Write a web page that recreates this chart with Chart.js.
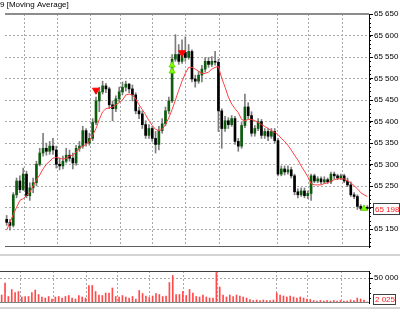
<!DOCTYPE html>
<html>
<head>
<meta charset="utf-8">
<script src="https://cdn.jsdelivr.net/npm/chart.js@4.4.0/dist/chart.umd.min.js"></script>
<style>
  html, body { margin: 0; padding: 0; background: #fff; }
  #wrap { position: relative; width: 400px; height: 314px; overflow: hidden; }
  #main { position: absolute; left: 0; top: 0; }
  #vol { position: absolute; left: 0; top: 258px; }
  .sep { position: absolute; left: 0; width: 400px; height: 2px; background: #d4d4d4; }
</style>
</head>
<body>
<div id="wrap">
  <canvas id="main" width="400" height="252"></canvas>
  <div class="sep" style="top:254px"></div>
  <canvas id="vol" width="400" height="56"></canvas>
  <div class="sep" style="top:307px"></div>
</div>
<script>
const titleText = '9 [Moving Average]';

const candleOpen = [
  65173, 65166, 65159, 65230, 65262, 65242, 65278, 65228, 65246, 65258,
  65301, 65327, 65338, 65331, 65343, 65334, 65301, 65297, 65308, 65322,
  65315, 65304, 65338, 65343, 65379, 65350, 65361, 65398, 65448, 65469,
  65483, 65476, 65439, 65430, 65453, 65469, 65480, 65487, 65476, 65462,
  65425, 65418, 65393, 65368, 65384, 65361, 65347, 65379, 65395, 65425,
  65448, 65545, 65556, 65540, 65561, 65549, 65563, 65499, 65494, 65508,
  65522, 65540, 65533, 65540, 65538, 65425, 65384, 65402, 65393, 65407,
  65354, 65343, 65391, 65434, 65414, 65373, 65384, 65400, 65368, 65377,
  65366, 65377, 65356, 65278, 65290, 65283, 65288, 65274, 65237, 65230,
  65239, 65228, 65233, 65274, 65262, 65267, 65260, 65265, 65260, 65278,
  65274, 65269, 65274, 65262, 65253, 65230, 65226, 65203, 65198, 65201
];
const candleHigh = [
  65182, 65173, 65235, 65269, 65274, 65292, 65285, 65258, 65269, 65308,
  65338, 65373, 65350, 65354, 65361, 65343, 65315, 65320, 65338, 65334,
  65327, 65345, 65354, 65389, 65384, 65373, 65407, 65457, 65480, 65494,
  65489, 65480, 65448, 65460, 65480, 65492, 65494, 65489, 65485, 65467,
  65434, 65425, 65402, 65393, 65389, 65377, 65389, 65407, 65434, 65457,
  65556, 65602, 65579, 65590, 65597, 65579, 65567, 65508, 65517, 65531,
  65549, 65549, 65551, 65563, 65545, 65430, 65412, 65409, 65414, 65412,
  65361, 65398, 65464, 65444, 65423, 65391, 65407, 65405, 65384, 65384,
  65384, 65384, 65361, 65297, 65297, 65297, 65294, 65278, 65244, 65246,
  65246, 65239, 65278, 65278, 65272, 65272, 65272, 65269, 65283, 65283,
  65278, 65278, 65278, 65269, 65260, 65235, 65230, 65207, 65205, 65205
];
const candleLow = [
  65159, 65148, 65155, 65223, 65235, 65240, 65223, 65217, 65235, 65251,
  65297, 65320, 65322, 65324, 65324, 65292, 65288, 65290, 65304, 65308,
  65290, 65299, 65331, 65338, 65343, 65345, 65356, 65393, 65423, 65464,
  65467, 65430, 65402, 65423, 65446, 65462, 65471, 65467, 65448, 65418,
  65407, 65384, 65361, 65361, 65354, 65327, 65334, 65373, 65391, 65418,
  65444, 65540, 65533, 65535, 65540, 65545, 65492, 65480, 65489, 65492,
  65515, 65526, 65528, 65531, 65377, 65338, 65377, 65384, 65389, 65347,
  65331, 65338, 65386, 65407, 65366, 65366, 65379, 65361, 65361, 65356,
  65361, 65350, 65274, 65274, 65276, 65278, 65269, 65230, 65223, 65226,
  65223, 65221, 65217, 65258, 65258, 65256, 65256, 65256, 65256, 65267,
  65265, 65265, 65258, 65249, 65226, 65221, 65196, 65194, 65194, 65194
];
const candleClose = [
  65166, 65159, 65230, 65262, 65242, 65278, 65228, 65246, 65258, 65301,
  65327, 65338, 65331, 65343, 65334, 65301, 65297, 65308, 65322, 65315,
  65304, 65338, 65343, 65379, 65350, 65361, 65398, 65448, 65469, 65483,
  65476, 65439, 65430, 65453, 65469, 65480, 65487, 65476, 65462, 65425,
  65418, 65393, 65368, 65384, 65361, 65347, 65379, 65395, 65425, 65448,
  65545, 65556, 65540, 65561, 65549, 65563, 65499, 65494, 65508, 65522,
  65540, 65533, 65540, 65538, 65425, 65384, 65402, 65393, 65407, 65354,
  65343, 65391, 65434, 65414, 65373, 65384, 65400, 65368, 65377, 65366,
  65377, 65356, 65278, 65290, 65283, 65288, 65274, 65237, 65230, 65239,
  65228, 65233, 65274, 65262, 65267, 65260, 65265, 65260, 65278, 65274,
  65269, 65274, 65262, 65253, 65230, 65226, 65203, 65198, 65201, 65198
];
const maValues = [
  65148, 65166, 65184, 65201, 65217, 65221, 65228, 65235, 65251, 65265,
  65276, 65290, 65301, 65308, 65315, 65317, 65315, 65313, 65315, 65320,
  65322, 65329, 65338, 65343, 65347, 65354, 65368, 65384, 65405, 65423,
  65430, 65432, 65434, 65439, 65444, 65450, 65462, 65464, 65462, 65453,
  65439, 65428, 65416, 65402, 65391, 65382, 65379, 65382, 65393, 65409,
  65428, 65450, 65473, 65494, 65512, 65526, 65526, 65522, 65517, 65512,
  65512, 65515, 65522, 65526, 65528, 65501, 65480, 65457, 65441, 65430,
  65421, 65405, 65402, 65405, 65405, 65402, 65398, 65393, 65389, 65384,
  65379, 65375, 65370, 65361, 65354, 65345, 65334, 65322, 65311, 65297,
  65285, 65272, 65256, 65253, 65253, 65253, 65256, 65258, 65262, 65265,
  65267, 65267, 65267, 65262, 65258, 65251, 65244, 65235, 65230, 65226
];
const volumes = [
  16000, 40000, 13000, 27000, 21000, 23000, 12000, 13000, 13000, 21000,
  26000, 17000, 12000, 10000, 13000, 8000, 12000, 13000, 10000, 13000,
  15000, 10000, 8000, 15000, 12000, 10000, 35000, 35000, 23000, 16000,
  15000, 20000, 20000, 30000, 13000, 12000, 15000, 12000, 10000, 13000,
  8000, 25000, 19000, 14000, 11000, 14000, 19000, 17000, 13000, 14000,
  41000, 55000, 17000, 17000, 23000, 15000, 27000, 20000, 13000, 12000,
  16000, 12000, 10000, 10000, 61000, 32000, 16000, 12000, 16000, 13000,
  16000, 14000, 12000, 10000, 7000, 5000, 6000, 5000, 6000, 5000,
  5000, 6000, 20000, 16000, 14000, 12000, 14000, 12000, 10000, 12000,
  10000, 8000, 7000, 5000, 4000, 5000, 4000, 5000, 4000, 5000,
  4000, 5000, 4000, 4000, 6000, 5000, 10000, 8000, 6000, 2025
];

// signal arrows (bar index, price)
const sellX = [27, 53];
const sellY = [65473, 65560];
const buyX = [50, 50];
const buyY = [65531, 65517];
const lastMarkX = [108];
const lastMarkY = [65198];

// axis ticks and vertical grid positions (bar index)
const gridX = [5.5, 15.3, 25.4, 34.4, 44.2, 54.1, 64.2, 81.8, 91.3, 101.4];
const priceTicks = [65150, 65200, 65250, 65300, 65350, 65400, 65450, 65500, 65550, 65600, 65650];
const volumeTicks = [50000];

const GRID = '#a8a8a8';
const FONT = { family: 'Liberation Sans', size: 8 };
const fmt = v => String(Math.round(v)).replace(/\B(?=(\d{3})+(?!\d))/g, ' ');
const idx = candleClose.map((_, i) => i);

const xScale = () => ({
  type: 'linear',
  min: -0.5,
  max: idx.length - 0.5,
  offset: false,
  afterBuildTicks: s => { s.ticks = gridX.map(v => ({ value: v })); },
  afterFit: s => { s.height = 0; },
  ticks: { display: false },
  grid: { color: GRID, drawTicks: false, offset: false },
  border: { display: false, dash: [2, 2] }
});

// right-hand axis: fixed width, no extra label padding
const fitRight = s => { s.width = 31; s.paddingTop = 0; s.paddingBottom = 0; };

const mainDecor = {
  id: 'mainDecor',
  afterDraw(chart) {
    const { ctx, chartArea: a, scales: { y } } = chart;
    ctx.save();
    ctx.font = '8px "Liberation Sans"';
    ctx.textBaseline = 'middle';
    ctx.textAlign = 'left';
    ctx.fillStyle = '#000';
    ctx.fillText(titleText, 0, 5);

    ctx.strokeStyle = '#8c8c8c';
    ctx.lineWidth = 2;
    ctx.beginPath(); ctx.moveTo(a.left, a.top); ctx.lineTo(a.right, a.top); ctx.stroke();
    ctx.strokeStyle = '#606060';
    ctx.lineWidth = 1;
    ctx.beginPath(); ctx.moveTo(a.left, a.bottom - 0.5); ctx.lineTo(a.right, a.bottom - 0.5); ctx.stroke();

    // minor ticks
    ctx.strokeStyle = '#000';
    for (let v = Math.ceil(y.min / 10) * 10; v <= y.max; v += 10) {
      const py = Math.round(y.getPixelForValue(v)) + 0.5;
      ctx.beginPath(); ctx.moveTo(a.right, py); ctx.lineTo(a.right + 2, py); ctx.stroke();
    }

    // last price box
    const last = candleClose[candleClose.length - 1];
    const py = Math.round(y.getPixelForValue(last));
    ctx.fillStyle = '#fff';
    ctx.fillRect(a.right + 4, py - 5, 27, 11);
    ctx.strokeStyle = '#404040';
    ctx.strokeRect(a.right + 4.5, py - 5.5, 26, 11);
    ctx.fillStyle = '#ff1a1a';
    ctx.fillText(fmt(last), a.right + 6, py + 0.5);
    ctx.restore();
  }
};

new Chart(document.getElementById('main'), {
  type: 'bar',
  data: {
    datasets: [
      {
        type: 'scatter', order: -3,
        data: sellX.map((x, i) => ({ x, y: sellY[i] })),
        pointStyle: 'triangle', rotation: 180, pointRadius: 4,
        backgroundColor: '#ff0000', borderColor: '#ff0000', borderWidth: 1
      },
      {
        type: 'scatter', order: -2,
        data: buyX.map((x, i) => ({ x, y: buyY[i] }))
          .concat(lastMarkX.map((x, i) => ({ x, y: lastMarkY[i] }))),
        pointStyle: 'triangle', pointRadius: 3.5,
        backgroundColor: '#80ff00', borderColor: '#66dd00', borderWidth: 1
      },
      {
        type: 'line', order: -1,
        data: idx.map(i => ({ x: i, y: maValues[i] })),
        borderColor: '#ff4040', borderWidth: 1, pointRadius: 0, tension: 0
      },
      {
        order: 1, grouped: false, barThickness: 2,
        data: idx.map(i => ({ x: i, y: [candleOpen[i], candleClose[i]] })),
        backgroundColor: idx.map(i => candleClose[i] >= candleOpen[i] ? '#0d5c0d' : '#000000')
      },
      {
        order: 2, grouped: false, barThickness: 1,
        data: idx.map(i => ({ x: i, y: [candleLow[i], candleHigh[i]] })),
        backgroundColor: '#7d7d7d'
      }
    ]
  },
  options: {
    responsive: false,
    animation: false,
    devicePixelRatio: 1,
    layout: { padding: { top: 14, bottom: 2, left: 0, right: 0 } },
    plugins: { legend: { display: false }, tooltip: { enabled: false } },
    scales: {
      x: xScale(),
      y: {
        position: 'right',
        min: 65108.7,
        max: 65650,
        afterBuildTicks: s => { s.ticks = priceTicks.map(v => ({ value: v })); },
        afterFit: fitRight,
        ticks: { color: '#000', font: FONT, padding: 1, autoSkip: false, callback: v => fmt(v) },
        grid: {
          color: c => (c.tick && c.tick.value >= 65650) ? 'rgba(0,0,0,0)' : GRID,
          tickColor: '#000', tickLength: 4
        },
        border: { display: true, color: '#000', width: 1, dash: [2, 2] }
      }
    }
  },
  plugins: [mainDecor]
});

const volDecor = {
  id: 'volDecor',
  afterDraw(chart) {
    const { ctx, chartArea: a, scales: { y } } = chart;
    ctx.save();
    ctx.lineWidth = 1;
    ctx.strokeStyle = '#404040';
    ctx.beginPath(); ctx.moveTo(a.left, a.top + 0.5); ctx.lineTo(a.right, a.top + 0.5); ctx.stroke();
    ctx.strokeStyle = '#808080';
    ctx.beginPath(); ctx.moveTo(a.left, a.bottom - 0.5); ctx.lineTo(a.right, a.bottom - 0.5); ctx.stroke();

    ctx.strokeStyle = '#000';
    for (let v = 10000; v <= y.max; v += 10000) {
      const py = Math.round(y.getPixelForValue(v)) + 0.5;
      ctx.beginPath(); ctx.moveTo(a.right, py); ctx.lineTo(a.right + 2, py); ctx.stroke();
    }

    const last = volumes[volumes.length - 1];
    const py = Math.min(Math.round(y.getPixelForValue(last)), a.bottom - 3);
    ctx.fillStyle = '#fff';
    ctx.fillRect(a.right + 4, py - 5, 23, 10);
    ctx.strokeStyle = '#404040';
    ctx.strokeRect(a.right + 4.5, py - 5.5, 22, 10);
    ctx.font = '8px "Liberation Sans"';
    ctx.textBaseline = 'middle';
    ctx.textAlign = 'left';
    ctx.fillStyle = '#ff1a1a';
    ctx.fillText(fmt(last), a.right + 6, py);
    ctx.restore();
  }
};

new Chart(document.getElementById('vol'), {
  type: 'bar',
  data: {
    datasets: [{
      grouped: false, barThickness: 1,
      data: idx.map(i => ({ x: i, y: volumes[i] })),
      backgroundColor: '#ff4a4a'
    }]
  },
  options: {
    responsive: false,
    animation: false,
    devicePixelRatio: 1,
    layout: { padding: { top: 13, bottom: 11, left: 0, right: 0 } },
    plugins: { legend: { display: false }, tooltip: { enabled: false } },
    scales: {
      x: xScale(),
      y: {
        position: 'right',
        min: 0,
        max: 64000,
        afterBuildTicks: s => { s.ticks = volumeTicks.map(v => ({ value: v })); },
        afterFit: fitRight,
        ticks: { color: '#000', font: FONT, padding: 1, autoSkip: false, callback: v => fmt(v) },
        grid: { color: GRID, tickColor: '#000', tickLength: 4 },
        border: { display: true, color: '#000', width: 1, dash: [2, 2] }
      }
    }
  },
  plugins: [volDecor]
});
</script>
</body>
</html>
